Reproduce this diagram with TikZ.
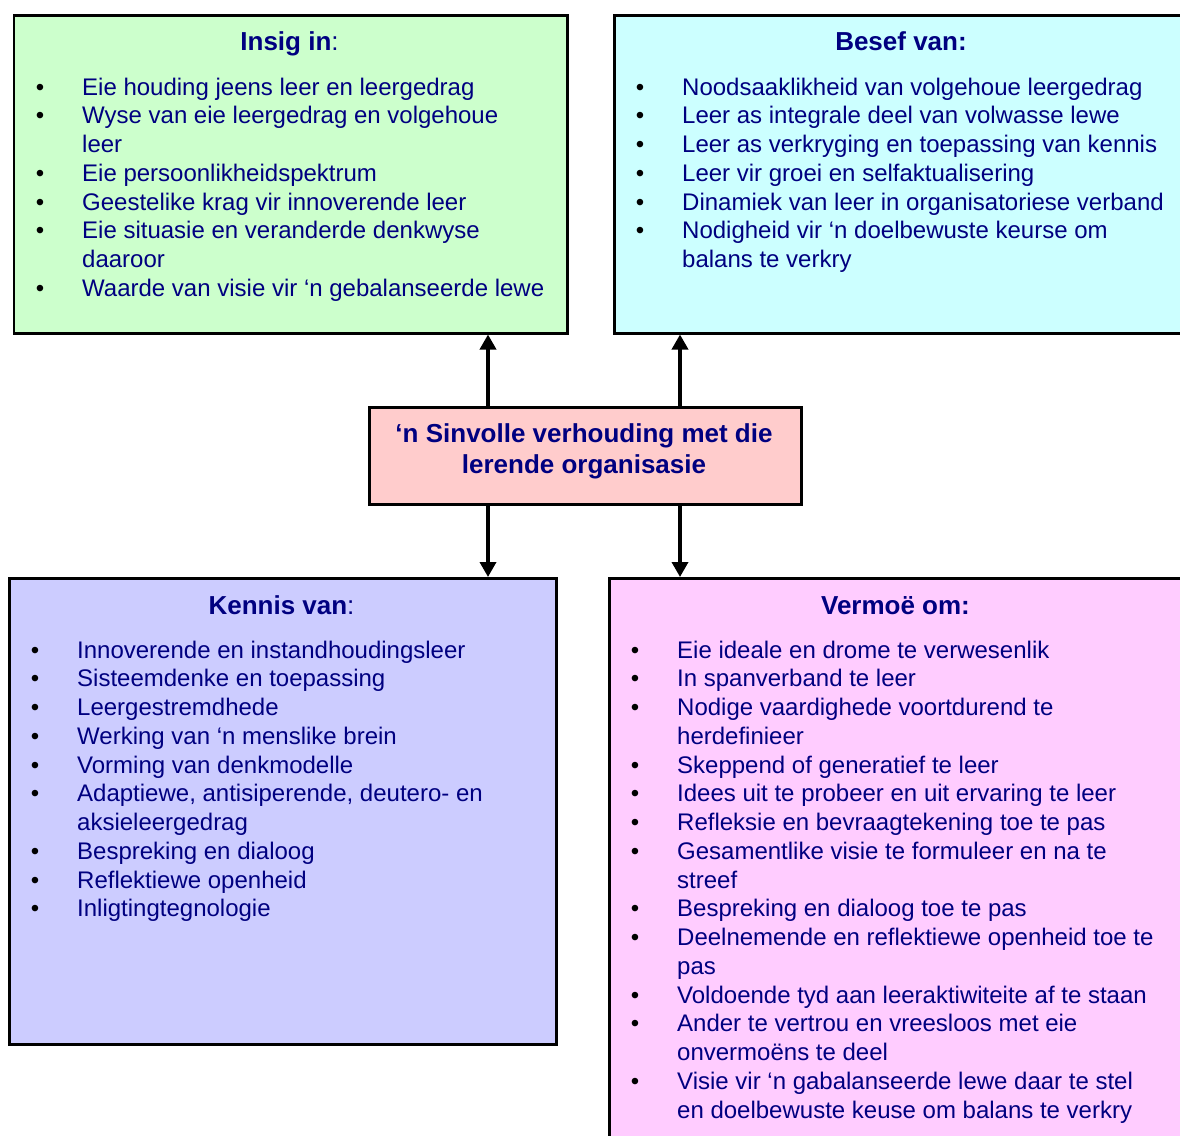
\documentclass[tikz,border=0pt]{standalone}
\usepackage{fontspec}
\setmainfont{Liberation Sans}
\usetikzlibrary{arrows.meta}
\definecolor{navytxt}{RGB}{0,0,128}
\definecolor{gfill}{RGB}{204,255,204}
\definecolor{cfill}{RGB}{204,255,255}
\definecolor{pfill}{RGB}{255,204,204}
\definecolor{lfill}{RGB}{204,204,255}
\definecolor{mfill}{RGB}{255,204,255}
\newcommand\bul{\llap{\textcolor{black}{•}\hspace{38pt}}}
\tikzset{
  boxnode/.style={draw=black, line width=2.5pt, rectangle, inner sep=0pt, anchor=north west},
  ttl/.style={font=\fontsize{26}{31}\selectfont, text=navytxt, anchor=base, inner sep=0pt, align=center},
  itm/.style={font=\fontsize{24}{28.75}\selectfont, text=navytxt, anchor=base west, inner sep=0pt, align=left},
  arr/.style={line width=3.5pt, -{Triangle[width=16pt,length=15pt]}}
}
\begin{document}
\begin{tikzpicture}[x=1pt,y=-1pt]
\useasboundingbox (0,0) rectangle (1180,1135);
\fill[white] (0,0) rectangle (1180,1135);
% boxes
\node[boxnode, fill=gfill, minimum width=553.5pt, minimum height=318pt] (g) at (12.5,14) {};
\node[boxnode, fill=cfill, minimum width=577pt, minimum height=318pt] (cy) at (613,14) {};
\node[boxnode, fill=pfill, minimum width=432pt, minimum height=97pt] (c) at (368,406) {};
\node[boxnode, fill=lfill, minimum width=547pt, minimum height=466pt] (l) at (8,577) {};
\node[boxnode, fill=mfill, minimum width=582pt, minimum height=570pt] (m) at (608,577) {};
% arrows
\coordinate (xa) at (488,0);
\coordinate (xb) at (680,0);
\draw[arr] (xa |- c.north) -- (xa |- g.south);
\draw[arr] (xb |- c.north) -- (xb |- cy.south);
\draw[arr] (xa |- c.south) -- (xa |- l.north);
\draw[arr] (xb |- c.south) -- (xb |- m.north);
% center text (base anchor = last line)
\node[ttl] (ct) at (584,473) {\textbf{‘n Sinvolle verhouding met die}\\\textbf{lerende organisasie}};
% titles
\node[ttl] (gt) at (289.5,50) {\textbf{Insig in}:};
\node[ttl] (cyt) at (901,50) {\textbf{Besef van:}};
\node[ttl] (lt) at (281.5,614) {\textbf{Kennis van}:};
\node[ttl] (mt) at (895.5,614) {\textbf{Vermoë om:}};
% green items
\node[itm] (g1) at (82,95) {\bul Eie houding jeens leer en leergedrag};
\node[itm] (g2) at (82,152.5) {\bul Wyse van eie leergedrag en volgehoue\\leer};
\node[itm] (g3) at (82,181.25) {\bul Eie persoonlikheidspektrum};
\node[itm] (g4) at (82,210) {\bul Geestelike krag vir innoverende leer};
\node[itm] (g5) at (82,267.5) {\bul Eie situasie en veranderde denkwyse\\daaroor};
\node[itm] (g6) at (82,296.25) {\bul Waarde van visie vir ‘n gebalanseerde lewe};
% cyan items
\node[itm] (c1) at (682,95) {\bul Noodsaaklikheid van volgehoue leergedrag};
\node[itm] (c2) at (682,123.75) {\bul Leer as integrale deel van volwasse lewe};
\node[itm] (c3) at (682,152.5) {\bul Leer as verkryging en toepassing van kennis};
\node[itm] (c4) at (682,181.25) {\bul Leer vir groei en selfaktualisering};
\node[itm] (c5) at (682,210) {\bul Dinamiek van leer in organisatoriese verband};
\node[itm] (c6) at (682,267.5) {\bul Nodigheid vir ‘n doelbewuste keurse om\\balans te verkry};
% lavender items
\node[itm] (l1) at (77,658) {\bul Innoverende en instandhoudingsleer};
\node[itm] (l2) at (77,686.75) {\bul Sisteemdenke en toepassing};
\node[itm] (l3) at (77,715.5) {\bul Leergestremdhede};
\node[itm] (l4) at (77,744.25) {\bul Werking van ‘n menslike brein};
\node[itm] (l5) at (77,773) {\bul Vorming van denkmodelle};
\node[itm] (l6) at (77,830.5) {\bul Adaptiewe, antisiperende, deutero- en\\aksieleergedrag};
\node[itm] (l7) at (77,859.25) {\bul Bespreking en dialoog};
\node[itm] (l8) at (77,888) {\bul Reflektiewe openheid};
\node[itm] (l9) at (77,916.75) {\bul Inligtingtegnologie};
% magenta items
\node[itm] (m1) at (677,658) {\bul Eie ideale en drome te verwesenlik};
\node[itm] (m2) at (677,686.75) {\bul In spanverband te leer};
\node[itm] (m3) at (677,744.25) {\bul Nodige vaardighede voortdurend te\\herdefinieer};
\node[itm] (m4) at (677,773) {\bul Skeppend of generatief te leer};
\node[itm] (m5) at (677,801.75) {\bul Idees uit te probeer en uit ervaring te leer};
\node[itm] (m6) at (677,830.5) {\bul Refleksie en bevraagtekening toe te pas};
\node[itm] (m7) at (677,888) {\bul Gesamentlike visie te formuleer en na te\\streef};
\node[itm] (m8) at (677,916.75) {\bul Bespreking en dialoog toe te pas};
\node[itm] (m9) at (677,974.25) {\bul Deelnemende en reflektiewe openheid toe te\\pas};
\node[itm] (m10) at (677,1003) {\bul Voldoende tyd aan leeraktiwiteite af te staan};
\node[itm] (m11) at (677,1060.5) {\bul Ander te vertrou en vreesloos met eie\\onvermoëns te deel};
\node[itm] (m12) at (677,1118) {\bul Visie vir ‘n gabalanseerde lewe daar te stel\\en doelbewuste keuse om balans te verkry};
\end{tikzpicture}
\end{document}
